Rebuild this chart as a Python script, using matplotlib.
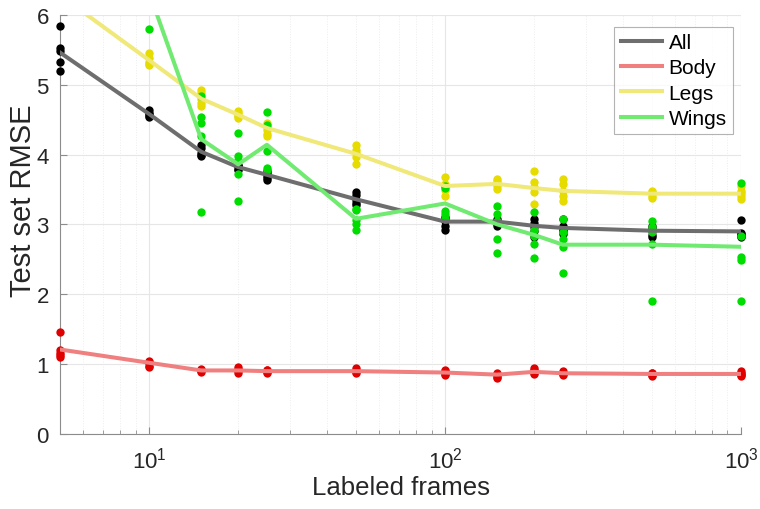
import matplotlib
matplotlib.use("Agg")
import matplotlib.pyplot as plt
from matplotlib import font_manager
import numpy as np

names = {f.name for f in font_manager.fontManager.ttflist}
fam = "Liberation Sans Narrow" if "Liberation Sans Narrow" in names else "Liberation Sans"
plt.rcParams['font.family'] = [fam, 'DejaVu Sans']
plt.rcParams['mathtext.fontset'] = 'custom'
plt.rcParams['mathtext.rm'] = fam

frames = [5, 10, 15, 20, 25, 50, 100, 150, 200, 250, 500, 1000]

all_runs = [
    [5.84, 5.53, 5.48, 5.33, 5.20],
    [4.64, 4.60, 4.58, 4.55, 4.54],
    [4.13, 4.10, 4.02, 3.99, 3.98],
    [3.85, 3.84, 3.83, 3.80, 3.78],
    [3.77, 3.74, 3.70, 3.66, 3.63],
    [3.47, 3.42, 3.35, 3.30, 3.28],
    [3.11, 3.08, 3.05, 2.98, 2.92],
    [3.08, 3.05, 3.03, 3.00, 2.98],
    [3.08, 3.02, 2.97, 2.90, 2.82],
    [3.08, 2.98, 2.94, 2.90, 2.86],
    [2.98, 2.95, 2.90, 2.85, 2.82],
    [3.06, 2.88, 2.86, 2.84, 2.82],
]
body_runs = [
    [1.46, 1.20, 1.16, 1.13, 1.10],
    [1.05, 1.03, 1.01, 0.97, 0.96],
    [0.93, 0.92, 0.91, 0.90, 0.89],
    [0.96, 0.93, 0.91, 0.90, 0.87],
    [0.92, 0.91, 0.90, 0.89, 0.88],
    [0.95, 0.92, 0.90, 0.89, 0.88],
    [0.92, 0.90, 0.88, 0.86, 0.85],
    [0.88, 0.86, 0.85, 0.82, 0.80],
    [0.95, 0.92, 0.90, 0.88, 0.86],
    [0.90, 0.88, 0.87, 0.86, 0.85],
    [0.88, 0.87, 0.86, 0.84, 0.83],
    [0.90, 0.88, 0.86, 0.84, 0.83],
]
legs_runs = [
    [6.45, 6.35, 6.30, 6.20, 6.10],
    [5.45, 5.38, 5.33, 5.30, 5.28],
    [4.93, 4.88, 4.80, 4.74, 4.70],
    [4.63, 4.60, 4.57, 4.55, 4.52],
    [4.45, 4.40, 4.35, 4.30, 4.27],
    [4.14, 4.07, 4.02, 3.96, 3.87],
    [3.68, 3.58, 3.55, 3.49, 3.41],
    [3.65, 3.62, 3.58, 3.55, 3.51],
    [3.77, 3.61, 3.54, 3.47, 3.29],
    [3.65, 3.58, 3.48, 3.41, 3.34],
    [3.48, 3.47, 3.45, 3.41, 3.38],
    [3.55, 3.48, 3.45, 3.41, 3.37],
]
wings_runs = [
    [7.40, 7.30, 7.20, 7.10, 7.00],
    [6.60, 6.50, 6.40, 6.20, 5.80],
    [4.84, 4.54, 4.45, 4.27, 3.18],
    [4.31, 3.98, 3.92, 3.72, 3.34],
    [4.61, 4.43, 4.05, 3.81, 3.78],
    [3.22, 3.20, 3.06, 3.00, 2.92],
    [3.55, 3.52, 3.19, 3.15, 3.08],
    [3.27, 3.15, 3.05, 2.79, 2.59],
    [3.18, 2.92, 2.84, 2.72, 2.52],
    [3.08, 2.89, 2.79, 2.68, 2.31],
    [3.05, 2.96, 2.89, 2.72, 1.90],
    [3.59, 2.84, 2.53, 2.49, 1.90],
]

all_mean = [5.46, 4.58, 4.04, 3.82, 3.71, 3.36, 3.04, 3.04, 2.98, 2.95, 2.91, 2.90]
body_mean = [1.21, 1.02, 0.91, 0.91, 0.90, 0.90, 0.88, 0.85, 0.89, 0.87, 0.86, 0.86]
legs_mean = [6.28, 5.35, 4.80, 4.57, 4.38, 4.01, 3.55, 3.58, 3.52, 3.48, 3.44, 3.44]
wings_mean = [7.20, 6.32, 4.22, 3.86, 4.14, 3.08, 3.30, 3.00, 2.85, 2.71, 2.71, 2.68]

labels = ["All", "Body", "Legs", "Wings"]
dot_colors = ["#000000", "#E00000", "#E6DC00", "#00DD00"]
line_colors = ["#6E6E6E", "#F08080", "#F0E878", "#70EA70"]

YMIN, YMAX = 0, 6

fig = plt.figure(figsize=(7.6, 5.1), dpi=100)
ax = fig.add_axes([0.079, 0.147, 0.896, 0.822])

runs = [all_runs, body_runs, legs_runs, wings_runs]
means = [all_mean, body_mean, legs_mean, wings_mean]

for r, c in zip(runs, dot_colors):
    for x, vals in zip(frames, r):
        v = [val for val in vals if YMIN <= val <= YMAX]
        if v:
            ax.plot([x] * len(v), v, 'o', color=c, markersize=6,
                    markeredgewidth=0, zorder=3, clip_on=False)

for m, c, lab in zip(means, line_colors, labels):
    ax.plot(frames, m, '-', color=c, lw=2.9, label=lab, zorder=4)

ax.set_xscale('log')
ax.set_xlim(5, 1000)
ax.set_ylim(YMIN, YMAX)
ax.set_yticks([0, 1, 2, 3, 4, 5, 6])
ax.grid(True, which='major', color='#E6E6E6', lw=0.8)
ax.grid(True, which='minor', axis='x', color='#EDEDED', lw=0.7, ls=':')
ax.set_axisbelow(True)
for s in ['top', 'right']:
    ax.spines[s].set_visible(False)
for s in ['left', 'bottom']:
    ax.spines[s].set_color('#8C8C8C')
ax.tick_params(which='both', direction='in', colors='#8C8C8C', labelcolor='#262626', labelsize=16)
ax.tick_params(which='major', length=5)
ax.tick_params(which='minor', length=3)
ax.tick_params(axis='y', pad=8)
ax.tick_params(axis='x', pad=9)
ax.set_xlabel("Labeled frames", fontsize=18.5, color='#262626', labelpad=2)
ax.set_ylabel("Test set RMSE", fontsize=21, color='#262626')
ax.yaxis.set_label_coords(-0.034, 0.56)

leg = ax.legend(loc='upper right', fontsize=15, frameon=True, fancybox=False,
                edgecolor='#A0A0A0', handlelength=2.0, borderpad=0.3,
                labelspacing=0.3, handletextpad=0.3, borderaxespad=0,
                bbox_to_anchor=(0.988, 0.971))
leg.get_frame().set_linewidth(0.8)

fig.savefig("out.png", dpi=100)
